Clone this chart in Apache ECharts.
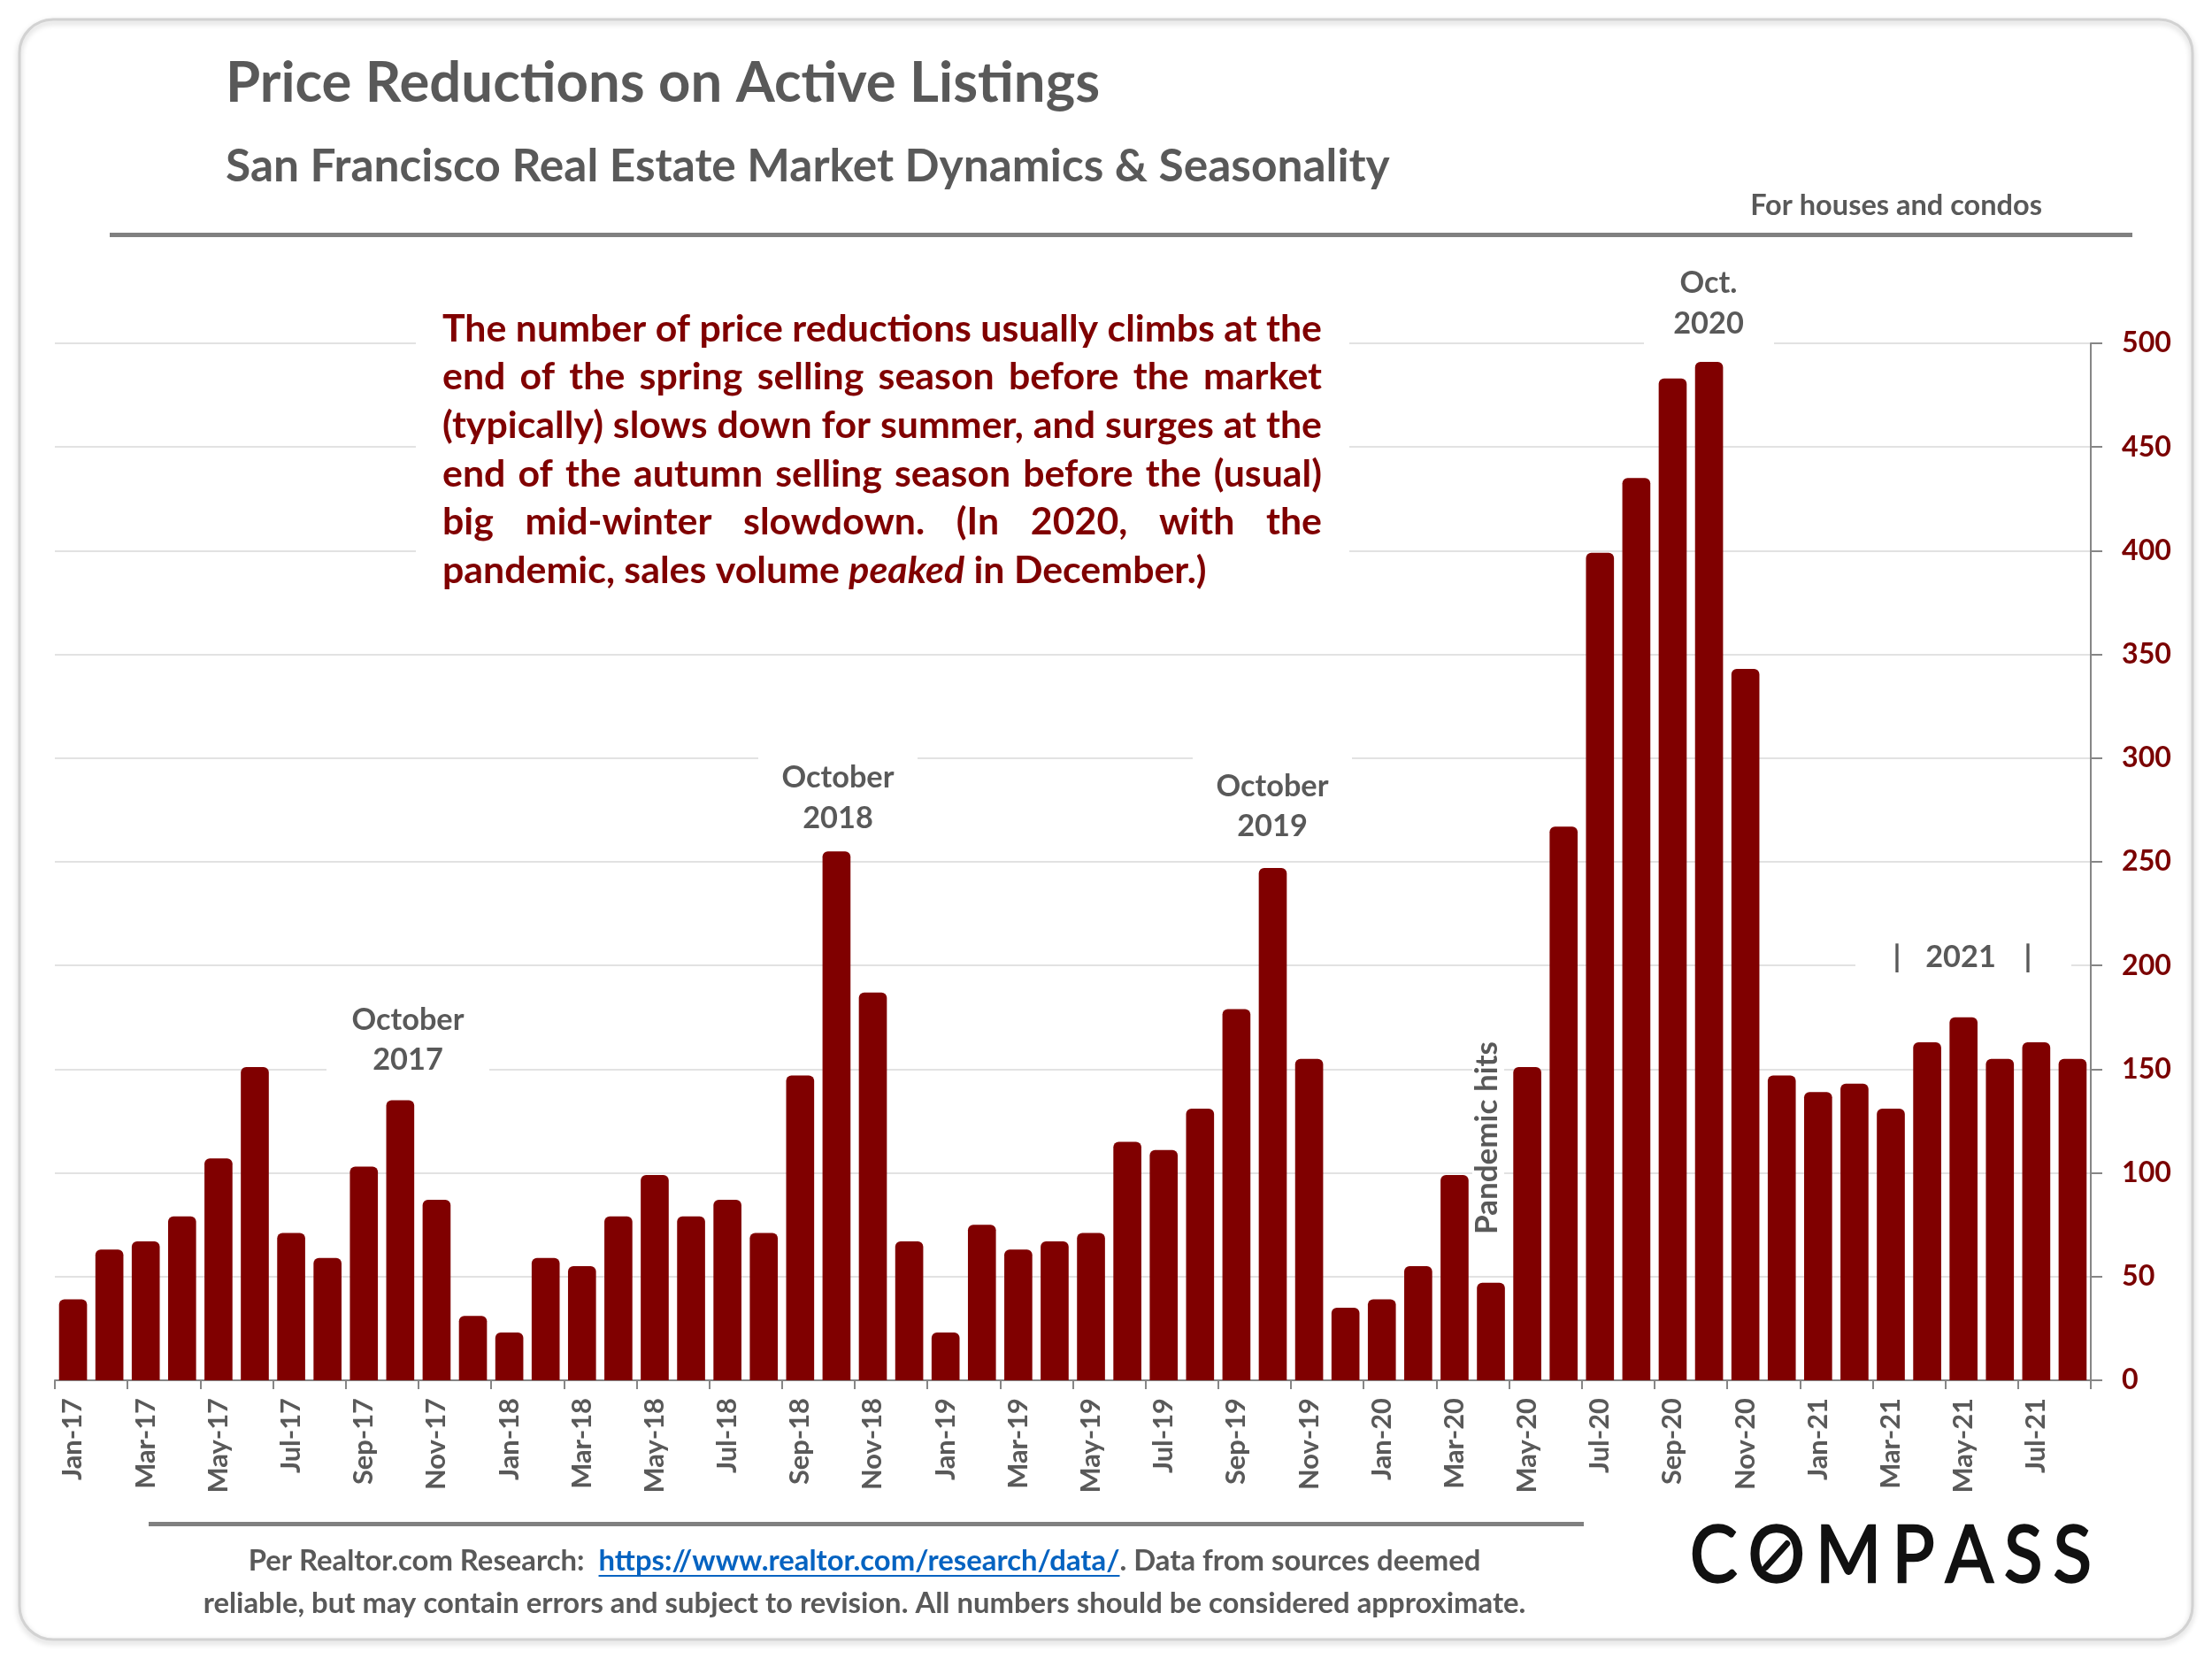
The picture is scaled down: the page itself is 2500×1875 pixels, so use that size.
<!DOCTYPE html>
<html><head><meta charset="utf-8">
<script src="https://cdn.jsdelivr.net/npm/echarts@6/dist/echarts.min.js"></script>
<style>html,body{margin:0;padding:0;background:#fff}#c{width:2500px;height:1875px}</style>
</head><body><div id="c"></div>
<script>
// ---------- DATA ----------
const categories = [
 'Jan-17','Feb-17','Mar-17','Apr-17','May-17','Jun-17','Jul-17','Aug-17','Sep-17','Oct-17','Nov-17','Dec-17',
 'Jan-18','Feb-18','Mar-18','Apr-18','May-18','Jun-18','Jul-18','Aug-18','Sep-18','Oct-18','Nov-18','Dec-18',
 'Jan-19','Feb-19','Mar-19','Apr-19','May-19','Jun-19','Jul-19','Aug-19','Sep-19','Oct-19','Nov-19','Dec-19',
 'Jan-20','Feb-20','Mar-20','Apr-20','May-20','Jun-20','Jul-20','Aug-20','Sep-20','Oct-20','Nov-20','Dec-20',
 'Jan-21','Feb-21','Mar-21','Apr-21','May-21','Jun-21','Jul-21','Aug-21'
];
const priceReductions = [
 39,63,67,79,107,151,71,59,103,135,87,31,
 23,59,55,79,99,79,87,71,147,255,187,67,
 23,75,63,67,71,115,111,131,179,247,155,35,
 39,55,99,47,151,267,399,435,483,491,343,147,
 139,143,131,163,175,155,163,155
];
const yMin = 0, yMax = 500, yStep = 50;

const titleText = 'Price Reductions on Active Listings';
const subtitleText = 'San Francisco Real Estate Market Dynamics & Seasonality';
const noteText = 'For houses and condos';
const annotationLines = [
 'The number of price reductions usually climbs at the',
 'end of the spring selling season before the market',
 '(typically) slows down for summer, and surges at the',
 'end of the autumn selling season before the (usual)',
 'big mid-winter slowdown. (In 2020, with the'
];
const annotationLast = ['pandemic, sales volume ', 'peaked', ' in December.)'];
const footer1 = ['Per Realtor.com Research:  ', 'https://www.realtor.com/research/data/', '. Data from sources deemed'];
const footer2 = 'reliable, but may contain errors and subject to revision. All numbers should be considered approximate.';

// ---------- helpers ----------
const FAM = 'Lato';
const GRAY = '#595959';
const RED = '#800000';
const ctx = document.createElement('canvas').getContext('2d');
function tw(text, font){ ctx.font = font; return ctx.measureText(text).width; }
function fit(text, weight, w, style){ return 100 * w / tw(text, (style||'normal') + ' ' + weight + ' 100px ' + FAM); }
function font(size, weight, style){ return (style||'normal') + ' ' + weight + ' ' + size.toFixed(2) + 'px ' + FAM; }

const G = [];
function text(x, y, t, size, color, opt){
  opt = opt || {};
  const tr = opt.rotation || opt.scaleY;
  const st = {text:t, x: tr ? 0 : x, y: tr ? 0 : y, fill:color,
      font: font(size, opt.weight||'bold', opt.style), align: opt.align||'left', verticalAlign:'middle'};
  if (opt.stroke) { st.stroke = color; st.lineWidth = opt.stroke; }
  G.push({type:'text', z:10, rotation: opt.rotation || 0, scaleY: opt.scaleY || 1,
    x: tr ? x : 0, y: tr ? y : 0, style: st});
}
function rect(x, y, w, h, z){ G.push({type:'rect', z: z==null?1:z, shape:{x,y,width:w,height:h}, style:{fill:'#fff'}}); }

// card
G.push({type:'rect', z:0, shape:{x:22,y:22,width:2456,height:1831,r:38},
  style:{fill:'transparent', stroke:'#d2d2d2', lineWidth:3, shadowBlur:6, shadowOffsetY:3, shadowColor:'rgba(0,0,0,0.22)'}});

// title, subtitle
text(255, 95, titleText, fit(titleText, 'bold', 988), GRAY);
text(255, 188, subtitleText, fit(subtitleText, 'bold', 1316), GRAY);
text(2308, 233, noteText, fit(noteText, 'bold', 330), GRAY, {align:'right'});
G.push({type:'rect', z:10, shape:{x:124,y:263,width:2286,height:5}, style:{fill:'#808080'}});

// annotation block (justified)
rect(470, 338, 1055, 340);
const annX = 500, annW = 994;
const annSize = fit(annotationLines[0], 'bold', annW);
const annF = font(annSize, 'bold');
annotationLines.forEach((line, i) => {
  const y = 372 + i * 54.6;
  const words = line.split(' ');
  const ws = words.map(w => tw(w, annF));
  const gap = (annW - ws.reduce((a,b)=>a+b,0)) / (words.length - 1);
  let x = annX;
  words.forEach((w, k) => { text(x, y, w, annSize, RED); x += ws[k] + gap; });
});
{
  const y = 372 + 5 * 54.6;
  let x = annX;
  const st = ['normal','italic','normal'];
  annotationLast.forEach((s, k) => {
    text(x, y, s, annSize, RED, {style: st[k]});
    x += tw(s, font(annSize, 'bold', st[k]));
  });
}

// event labels
const lblSize = fit('October', 'bold', 127);
function twoLine(cx, y1, y2, a, b, bx){
  rect(bx[0], bx[1], bx[2], bx[3]);
  text(cx, y1, a, lblSize, GRAY, {align:'center'});
  text(cx, y2, b, lblSize, GRAY, {align:'center'});
}
twoLine(461, 1153, 1198, 'October', '2017', [369, 1118, 184, 104]);
twoLine(947, 879, 925, 'October', '2018', [857, 845, 180, 106]);
twoLine(1438, 889, 934, 'October', '2019', [1348, 855, 180, 106]);
twoLine(1931, 320, 366, 'Oct.', '2020', [1858, 290, 147, 100]);
rect(2097, 1058, 244, 48);
text(2144, 1082, '|', lblSize, GRAY, {align:'center'});
text(2216, 1082, '2021', lblSize, GRAY, {align:'center'});
text(2292, 1082, '|', lblSize, GRAY, {align:'center'});
rect(1664, 1170, 36, 235);
text(1681, 1286, 'Pandemic hits', fit('Pandemic hits', 'bold', 218), GRAY, {align:'center', rotation: Math.PI/2});

// footer
G.push({type:'rect', z:10, shape:{x:168,y:1720,width:1622,height:5}, style:{fill:'#808080'}});
const fSize = fit(footer2, 'bold', 1495);
const fF = font(fSize, 'bold');
{
  const total = footer1.reduce((a,s)=>a+tw(s,fF),0);
  let x = 977 - total/2;
  const cols = [GRAY, '#0563C1', GRAY];
  footer1.forEach((s,k) => {
    const w = tw(s, fF);
    text(x, 1764, s, fSize, cols[k]);
    if (k === 1) G.push({type:'line', z:10, shape:{x1:x, y1:1764+fSize*0.52, x2:x+w, y2:1764+fSize*0.52}, style:{stroke:'#0563C1', lineWidth:2}});
    x += w;
  });
  text(977, 1812, footer2, fSize, GRAY, {align:'center'});
}

// COMPASS logo
{
  const letters = ['C','O','M','P','A','S','S'];
  const sz = 80, lf = font(sz, '400');
  const sy = 1.12;
  const ws = letters.map(l => tw(l, lf));
  const sp = (454 - ws.reduce((a,b)=>a+b,0)) / 6;
  let x = 1910;
  letters.forEach((l,k) => {
    text(x, 1759, l, sz, '#111', {weight:'400', scaleY: sy, stroke: 2.2});
    if (l === 'O') {
      const cx = x + ws[k]/2, cy = 1758, r = sz*0.21;
      G.push({type:'line', z:11, shape:{x1:cx - r*0.72, y1:cy + r*0.8, x2:cx + r*0.72, y2:cy - r*0.8}, style:{stroke:'#111', lineWidth:7, lineCap:'round'}});
    }
    x += ws[k] + sp;
  });
}

// ---------- CHART ----------
const chart = echarts.init(document.getElementById('c'), null, {renderer:'canvas'});
chart.setOption({
  backgroundColor: '#fff',
  animation: false,
  grid: {left: 62, right: 137, top: 388, bottom: 315},
  xAxis: {
    type: 'category', data: categories, boundaryGap: true,
    axisLine: {show: true, lineStyle: {color: '#868686', width: 2}},
    axisTick: {show: true, interval: 1, length: 10, lineStyle: {color: '#868686', width: 2}},
    axisLabel: {interval: 1, rotate: 90, margin: 20, color: GRAY, fontFamily: FAM, fontWeight: 'bold',
      fontSize: fit('Jan-17', 'bold', 93)},
    splitLine: {show: false}
  },
  yAxis: {
    type: 'value', position: 'right', min: yMin, max: yMax, interval: yStep,
    axisLine: {show: true, lineStyle: {color: '#868686', width: 2}},
    axisTick: {show: true, length: 13, lineStyle: {color: '#868686', width: 2}},
    axisLabel: {margin: 35, color: '#7a0000', fontFamily: FAM, fontWeight: 'bold', fontSize: fit('500', 'bold', 56)},
    splitLine: {show: true, lineStyle: {color: '#e2e2e2', width: 2}}
  },
  series: [{
    type: 'bar', data: priceReductions, barWidth: '77%', z: 2,
    itemStyle: {color: RED, borderRadius: [6, 6, 0, 0]}
  }],
  graphic: {elements: G}
});
</script></body></html>
